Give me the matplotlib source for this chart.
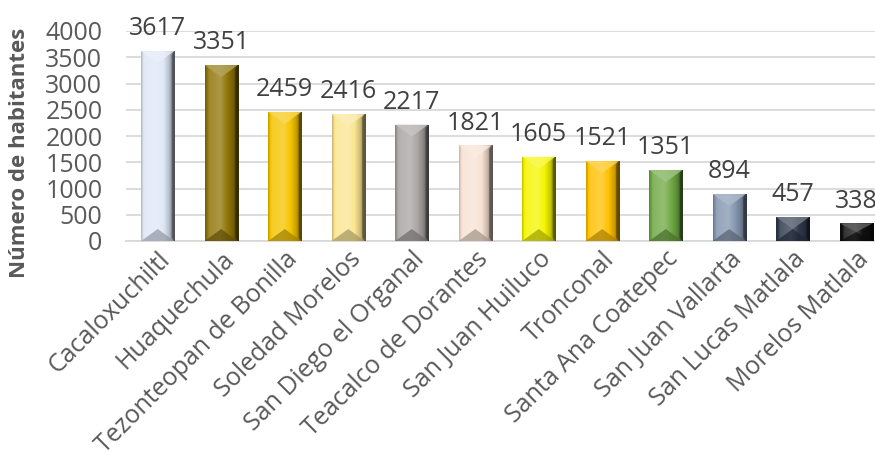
import numpy as np
import matplotlib
matplotlib.use('Agg')
import matplotlib.pyplot as plt
from matplotlib.patches import Polygon, Rectangle
from matplotlib.colors import to_rgb

plt.rcParams['font.family'] = ['Open Sans', 'DejaVu Sans']

# Data
localidades = ['Cacaloxuchiltl', 'Huaquechula', 'Tezonteopan de Bonilla',
               'Soledad Morelos', 'San Diego el Organal', 'Teacalco de Dorantes',
               'San Juan Huiluco', 'Tronconal', 'Santa Ana Coatepec',
               'San Juan Vallarta', 'San Lucas Matlala', 'Morelos Matlala']
habitantes = [3617, 3351, 2459, 2416, 2217, 1821, 1605, 1521, 1351, 894, 457, 338]
colores = ['#dfe8f7', '#8f7407', '#f5c400', '#fbe592', '#a8a5a3', '#f8e2d3',
           '#f5f500', '#ffc000', '#6fa844', '#8496b0', '#2f3a4c', '#111111']

TXT = '#595959'

fig = plt.figure(figsize=(8.75, 4.54), dpi=100)
ax = fig.add_axes([126 / 875, (454 - 241) / 454, 762 / 875, 210 / 454])

x = np.arange(len(localidades))
w = 0.52
bars = ax.bar(x, habitantes, width=w, color='none', zorder=3)

ax.set_xlim(-0.5, len(localidades) - 0.5)
ax.set_ylim(0, 4000)
ax.set_yticks(np.arange(0, 4001, 500))

# scale: data units per pixel
px_y = 4000 / 210.0
bev = 12 * px_y


def shade(c, f):
    c = np.array(to_rgb(c))
    if f >= 1:
        return tuple(c + (1 - c) * (f - 1))
    return tuple(c * f)


# bevelled bars (gradient + triangle facets)
for b, c in zip(bars, colores):
    x0 = b.get_x()
    x1 = x0 + b.get_width()
    h = b.get_height()
    xm = (x0 + x1) / 2
    t = np.linspace(0, 1, 60)
    fac = np.interp(t, [0, 0.12, 0.45, 0.85, 1], [0.8, 1.15, 1.25, 0.8, 0.35])
    grad = np.array([shade(c, f) for f in fac])[None, :, :]
    im = ax.imshow(grad, extent=[x0, x1, 0, h], aspect='auto', zorder=3,
                   interpolation='bilinear')
    rect = Rectangle((x0, 0), x1 - x0, h, transform=ax.transData)
    im.set_clip_path(rect)
    d = min(bev, h / 2)
    # top facet
    ax.add_patch(Polygon([(x0, h), (x1, h), (xm, h - d)], closed=True,
                         facecolor=shade(c, 1.35), edgecolor='none', alpha=0.8, zorder=4))
    # bottom facet
    ax.add_patch(Polygon([(x0, 0), (x1, 0), (xm, d)], closed=True,
                         facecolor=shade(c, 0.65), edgecolor='none', alpha=0.7, zorder=4))
    # right side edge
    ax.add_patch(Polygon([(x1, 0), (x1, h), (x1 - 0.04, h - d * 0.3), (x1 - 0.04, d * 0.3)],
                         closed=True, facecolor=shade(c, 0.3), edgecolor='none',
                         alpha=0.6, zorder=4))
    ax.annotate(f'{h:.0f}', (xm, h), xytext=(0, 7), textcoords='offset points',
                ha='center', va='bottom', fontsize=18, color='#404040',
                annotation_clip=False, zorder=6)

ax.grid(axis='y', color='#d9d9d9', linewidth=1.3, zorder=0)
ax.set_axisbelow(True)
for s in ['top', 'right', 'left']:
    ax.spines[s].set_visible(False)
ax.spines['bottom'].set_color('#d9d9d9')
ax.spines['bottom'].set_linewidth(1.3)

ax.tick_params(axis='both', length=0, colors=TXT, labelsize=18)
ax.tick_params(axis='y', pad=17)
ax.tick_params(axis='x', pad=4)
ax.set_xticks(x)
ax.set_xticklabels(localidades, rotation=45, ha='right', rotation_mode='anchor',
                   fontsize=18, color=TXT)
ax.set_ylabel('Número de habitantes', fontsize=16, fontweight='bold', color=TXT)
ax.yaxis.set_label_coords(-106 / 762, 0.42)
ax.yaxis.label.set_va('center')

fig.savefig('out.png', dpi=100)
